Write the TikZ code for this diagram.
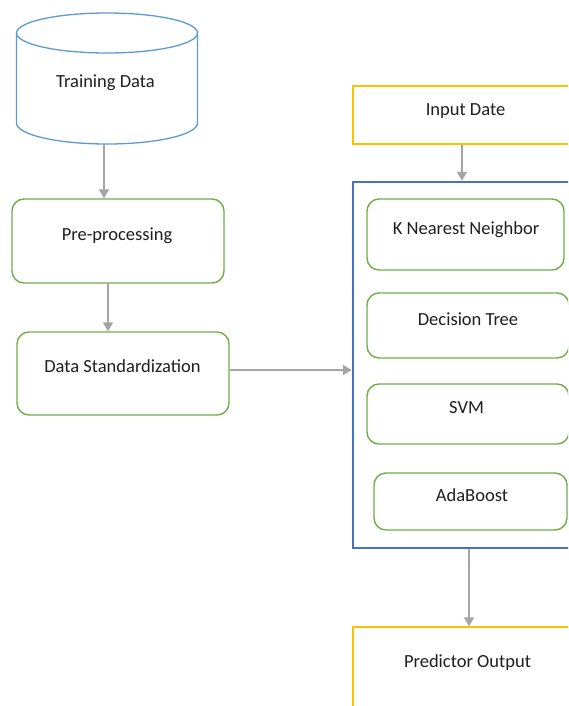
\documentclass[tikz,border=0pt]{standalone}
\usepackage{fontspec}
\setmainfont{Carlito}
\usetikzlibrary{arrows.meta}
\definecolor{dbblue}{HTML}{5B9BD5}
\definecolor{boxgreen}{HTML}{70AD47}
\definecolor{boxyellow}{HTML}{FFC000}
\definecolor{frameblue}{HTML}{4472C4}
\definecolor{arrowgray}{HTML}{A5A5A5}
\definecolor{txt}{HTML}{1F1F1F}
\tikzset{
  lbl/.style={anchor=base, inner sep=0pt, text=txt, font=\fontsize{18.5}{22}\selectfont},
  greenbox/.style={draw=boxgreen, line width=1.4pt, rounded corners=12pt},
  yellowbox/.style={draw=boxyellow, line width=1.4pt},
  framebox/.style={draw=frameblue, line width=2.4pt},
  flow/.style={draw=arrowgray, line width=2pt, -{Triangle[length=9pt,width=10pt]}},
}
\begin{document}
\begin{tikzpicture}[x=1pt, y=-1pt]
  \useasboundingbox (0,0) rectangle (568,706);
  \clip (0,0) rectangle (568,706);
  \fill[white] (0,0) rectangle (568,706);

  % training data cylinder
  \draw[dbblue, line width=1.3pt]
    (16.5,33) -- (16.5,123)
    arc[start angle=180, end angle=360, x radius=90.5pt, y radius=21pt]
    -- (197.5,33);
  \draw[dbblue, line width=1.3pt] (107,33) ellipse [x radius=90.5pt, y radius=20pt];
  \coordinate (dbbot) at (104,144);
  \node[lbl] (tdata) at (105.5,88) {Training Data};

  % left column
  \node[greenbox, minimum width=212pt, minimum height=84pt] (pre) at (118,241) {};
  \node[lbl] (pretxt) at (117,240) {Pre-processing};
  \node[greenbox, minimum width=212pt, minimum height=83pt] (std) at (123,373.5) {};
  \node[lbl] (stdtxt) at (122.5,372) {Data Standardization};

  % input box
  \node[yellowbox, minimum width=240pt, minimum height=58pt] (inp) at (473,115) {};
  \node[lbl] (inptxt) at (465.5,115) {Input Date};

  % classifier frame
  \node[framebox, minimum width=240pt, minimum height=366pt] (frame) at (473,365) {};
  \node[greenbox, minimum width=197pt, minimum height=71pt] (knn) at (465.5,234.5) {};
  \node[lbl] (knntxt) at (466,234) {K Nearest Neighbor};
  \node[greenbox, minimum width=202pt, minimum height=65pt] (dt) at (468,325.5) {};
  \node[lbl] (dttxt) at (468,325) {Decision Tree};
  \node[greenbox, minimum width=202pt, minimum height=60pt] (svm) at (468,414) {};
  \node[lbl] (svmtxt) at (466.5,413) {SVM};
  \node[greenbox, minimum width=193pt, minimum height=57pt] (ada) at (470.5,501.5) {};
  \node[lbl] (adatxt) at (472,501) {AdaBoost};

  % output box
  \node[yellowbox, minimum width=240pt, minimum height=120pt] (out) at (473,687) {};
  \node[lbl] (outtxt) at (467.5,667) {Predictor Output};

  % connectors
  \draw[flow] (dbbot) -- (pre.north -| dbbot);
  \draw[flow] (108,283) -- (std.north -| 108,0);
  \draw[flow] (std.east |- 0,370) -- (frame.west |- 0,370);
  \draw[flow] (inp.south -| 462,0) -- (frame.north -| 462,0);
  \draw[flow] (frame.south -| 469,0) -- (out.north -| 469,0);
\end{tikzpicture}
\end{document}
